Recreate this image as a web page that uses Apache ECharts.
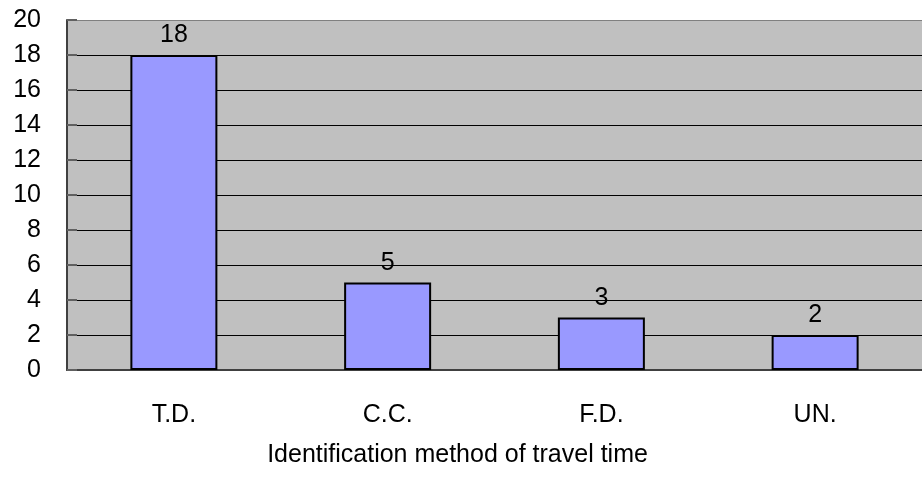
<!DOCTYPE html>
<html><head><meta charset="utf-8">
<script src="https://cdn.jsdelivr.net/npm/echarts@6/dist/echarts.min.js"></script>
<style>html,body{margin:0;padding:0;background:#fff}#c{width:922px;height:477px}</style>
</head><body><div id="c"></div>
<script>
const categories = ['T.D.', 'C.C.', 'F.D.', 'UN.'];
const counts = [18, 5, 3, 2];
const xName = 'Identification method of travel time';

const chart = echarts.init(document.getElementById('c'), null, {renderer: 'canvas'});
const splitColors = ['#000','#000','#000','#000','#000','#000','#000','#000','#000','#000','#808080'];
const FF = 'Liberation Sans, Arial, sans-serif';
chart.setOption({
  animation: false,
  textStyle: {fontFamily: FF},
  grid: {left: 67, right: -9, top: 20, bottom: 107, show: true, backgroundColor: '#c0c0c0', borderWidth: 0},
  xAxis: {
    type: 'category', data: categories,
    name: xName, nameLocation: 'middle', nameGap: 73,
    nameTextStyle: {fontSize: 25, color: '#000', fontFamily: FF, padding: [0, 74, 0, 0]},
    axisLine: {lineStyle: {color: '#404040', width: 2}},
    axisTick: {inside: true, length: 10, lineStyle: {color: '#606060', width: 2}},
    axisLabel: {fontSize: 25, color: '#000', margin: 33, fontFamily: FF}
  },
  yAxis: {
    type: 'value', min: 0, max: 20, interval: 2,
    axisLine: {show: true, lineStyle: {color: '#404040', width: 2}},
    axisTick: {show: true, inside: true, length: 10, lineStyle: {color: '#606060', width: 2}},
    axisLabel: {fontSize: 25, color: '#000', margin: 26, fontFamily: FF, padding: [7, 0, 0, 0]},
    splitLine: {show: true, lineStyle: {color: splitColors, width: 1.2}}
  },
  series: [{
    type: 'bar', data: counts, barWidth: 87,
    itemStyle: {color: '#9999ff', borderColor: '#000', borderWidth: 2},
    label: {show: true, position: 'top', distance: 7, fontSize: 25, color: '#000', fontFamily: FF}
  }]
});
</script></body></html>
